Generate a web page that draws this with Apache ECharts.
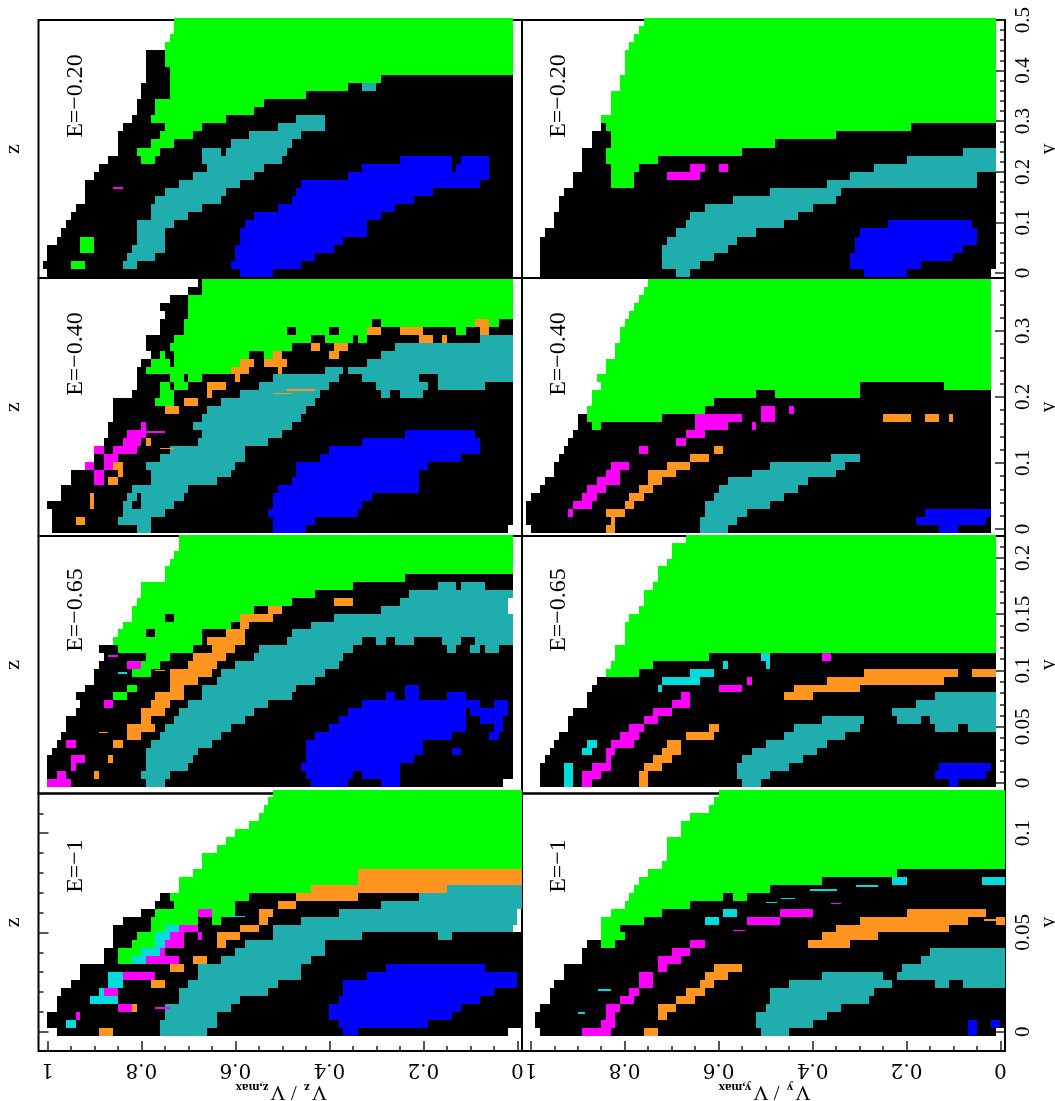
<!DOCTYPE html>
<html><head><meta charset="utf-8">
<script src="https://cdn.jsdelivr.net/npm/echarts@6/dist/echarts.min.js"></script>
<style>html,body{margin:0;padding:0;background:#fff}#c{width:1055px;height:1101px}</style>
</head><body><div id="c"></div>
<script>
// Each row string, top row first: v/vmax in percent where the row starts, then colour letter + percent where that colour ends.
const famColors = {k:'#000000',g:'#00ff00',t:'#20adad',b:'#0000ff',o:'#ff951e',m:'#ff00ff',c:'#00dcdc'};
const vTicks = [1,0.8,0.6,0.4,0.2,0];
const vMinor = [1,.95,.9,.85,.75,.7,.65,.55,.5,.45,.35,.3,.25,.15,.1,.05];

const vzE020 = ["73g1","73g1","74g1","75g1","79k75g1","79k75g1","79k74g1","79k74g29k1","80k74g36k33t30k1","80k74g45k1","81k77g54k1","81k77g56k1","82k78g62k47t41k1","84k75g67k51t41k1","85k76g69k57t46k1","85k78g73k61t48k1","85k81g76k67t63k62t49k1","87k80g77k67t50k25b14k12b6k1","89k66t54k33b14k13b6k1","90k69t56k36b6k1","92k72t59k46b8k1","92k75t62k47b18k1","92k77t63k48b22k1","94k78t67k51b26k1","95k78t70k56b29k1","96k81t73k58b32k1","97k81t75k59b32k1","98k93g90k81t75k59b37k1","100k93g90k82t75k60b39k1","100k83t77k60b43k1","101k95g92k84t81k61b46k1","100k59b52k1"];
const vyE020 = ["76g1","77g1","78g1","79g1","80g1","80g1","80g1","81g1","81g1","83g1","83g1","83g1","85g1","85k84g19k1","87k83g35k1","87k83g48k1","89k84g55k8t1","89k84g73k20t1","89k83g77k66m63k60m58k27t1","91k83g78k71m64k32t5k1","91k83g78k37t5k1","93k49t34k1","94k57t35k1","94k63t40k1","95k66t43k1","95k67t46k24b6k1","97k69t52k30b5k1","98k71t56k31b5k1","98k72t58k31b8k1","98k72t61k32b10k1","98k72t64k32b17k1","98k69t66k29b20k2"];
const vzE040 = ["68k67g1","70k67g1","74k70g1","76k70g1","75k70g1","76k71g31k29g9o6g4k1","76k71g49k47g40k38g32o29k25o20k13g11k8o6k1","79k73g44k41g35k34g32k21o18k16o15k8t1","79k74g48k44o42k39o36k26t1","78k76g75k73g57k54g52o50k40o38k29t1","80k78g74k73g59o56k54o49k32t1","81k79g61o57k51o50k41t37k36t1","81k74g71k70g67k60o59k52t38k33t21k17t1","81k76g74k73g70k66o62k55t40k30t19k17t7k1","82k76g73k66o65k59t42k29t27k25t20k1","86k77g73k71o68k63t43k1","86k75o72k66t45k1","86k67t46k1","87k80m79k69t48k1","87k83m79k67t50k24b9k1","88k84m80k79o78k68t53k33b8k1","90m88k86m81k74t58k40b8k1","90k88m85k76t58k42b12k1","92m90k88m86o84k79t60k47b19k1","95k90m88k85o84k78t61k47b21k1","95k90m88k87o85k78t64k48b21k1","97k82t70k51b21k1","97k91o90k83t81k80t71k52b31k1","100k91o90k84t82k80t73k52b33k1","99k84t75k53b34k1","99k94o92k85t78k52b43k1","99k81t78k52b45k2"];
const vyE040 = ["75g2","76g2","77g2","78g2","79g2","80g2","81g2","81g2","82g2","82g2","84g2","84g2","86g2","85g30k12g2","87g52k48g30k2","87g61k2","88g63k51m48k45m44k2","90k88g72k65m55k51m48k25o19k16o13k11o10k2","90k87g85k65m58k53m52k2","91k67m63k2","92k69m67k2","93k77m75k61o59k2","94k66o62k36t30k2","95k83m79k71o66k49t33k2","95k84m81k75o69k53t35k2","97k86m81k75o72k58t41k2","98k88m84k77o74k60t43k2","100k89m86k79o76k61t46k2","101k91m87k80o78k63t49k2","101k92m91k84o80k63t54k16b2","101k83o82k64t56k18b3k2","100k84o82k64t58k13b9k2"];
const vzE065 = ["72g1","72g1","73g1","74g1","75g1","75g24k1","80g35k17t13k12t7k1","80g43k23t1","81g48k39o35k25t2","82g56k53o50k29t2","82g75k73g59o52k39t1","84g61k59o57k44t1","85g79k77g67k62o58k48t1","86g67k66o58k49t33k30t28k26t22k16t12k9t1","89k85g69k65o60k55t35k15t13k10t8k7t4k1","88k79g74k69o62k56t37k1","89k83m80g76k70o64k60t38k1","90k82g78k74o65k63t41k1","90k74o68k64t43k1","92k83g81k74o71k67t47k24b21k1","94k86g83k77o71k67t48k28b26k24b21k15b11k1","93k88m86k78o74k70t53k33b10k10b8k5b2k1","94k80o75k72t56k36b11k10b2k1","96k80o78k73t58k38b11k8b3k1","96k83o77k75t61k40b11k5b3k1","97k83o80k76t63k43b14k6b4k1","98k96m94k86o84k78t65k45b20k1","99k79t68k45b20k14b12k1","100k95m92k87o86k79t69k45b22k1","100k95m94k79t70k46b25k1","100k98m96k90o89k80t74k45b35k33b25k1","100m95k79t75k44b36k29b25k3"];
const vyE065 = ["67g1","70g1","70g1","71g1","73g1","73g1","74g1","76g1","76g1","77g1","79g1","80g1","80g1","80g1","82g1","82g62k51c49k38m36k1","83g74k59c58k50c49k1","84g77k66c61k29o9k6o1","86k72c64k54m53k37o12k1","87k73c72k60m55k44o30k1","88k68m66k46o40k14t1","88k70m66k18t1","91k74m70k23t1","92k76m73k38t29k22t17k15t1","92k79m76k62o60k44t30k14t9k7t1","94k81m77k67o61k46t33k1","95k88c86k83m78k71o68k50t37k1","96k89c87k84m82k72o68k53t39k1","97k84m83k74o70k55t42k1","98k93c91k87m83k76o72k56t45k13b2k1","98k93c91k89m85k77o75k56t49k14b3k1","98k93c91k89m87k77o75k55t51k11b9k1"];
const vzE100 = ["52g-1","53g-1","54g-1","55g-1","57g-1","60g-1","62g-1","64g-1","67g-1","67g-1","69g34o-1","72g34o-1","72g44o15t-1","76k74g57k47o34k21t-1","77k73g60k51o47k29t-1","80k77g68m65g60k55o52k38t0","84k78g68k65g63k55o53k46t0","86k78g75c72m68k59o55k52t1","86k81g77c74m71k68m67k64o59k52t33k17t14k-1","86k82g77c75m71k64o62k58t41k-1","88k85g80c76m75k60t41k-1","88k85g82c79m72k69o66k63t44k-1","93k74o71k68t46k28b7k-1","93k87c84m77k68t46k32b0k-1","95k87c84k78o75k70t51k37b0k-1","97k89c88m85k72t53k37b5k-1","98k91c85k72t59k38b8k-1","98k85m82o81k75t61k40b12k-1","100k94m93k75t64k40b14k-1","100k96c94k76t64k38b19k-1","98k89o86k76t66k37b34k2"];
const vyE100 = ["60g-1","61g-1","62g-1","66g-1","68g-1","68g-1","71g-1","71g-1","71g-1","72g-1","75g22k-1","77g38k23c20k4c-1","78g49k-1","79g59k57g54k-1","80g66k-1","83g72k59c56k47m40k20o3k-1","85g76k63c60k54m47k30o7k1o-1","85g81k35o11k-1","85g80k38o26k-1","88k85g82k66m63k41o32k-1","89k70m66k15t-1","89k73m68k17t-1","93k73m71k61o55k21t-1","93k77m74k63o58k38t25k22t-1","95k77m74k64o61k45t23k14t11k8t-1","96k79m77k67o63k49t27k-1","96k81m78k69o65k49t28k-1","98k84m81k73o69k50t34k-1","99k84m82k73o71k52t37k-1","99k85m82k52t40k7b5k2b0k-1","98k89m83k76o73k51t45k7b5k1"];

// Thin streaks: [v start %, v end %, y, colour letter]
const thinVyE100 = [[30.7,26,.0734,'c'],[40.5,34.7,.0713,'c'],[46.7,43.8,.0672,'c'],[50,47.5,.0652,'c'],[85.6,83,.021,'c'],[90,88.5,.0094,'c'],[56.9,54.4,.051,'m'],[3.5,0.6,.0564,'o'],[36,34,.0645,'m']];
const thinVzE020 = [[86,84,.168,'m']];
const thinVzE040 = [[81.5,75,.147,'m'],[76,73,.122,'o'],[52,48,.205,'o'],[49,43,.21,'o']];
const thinVzE065 = [[89,87,.045,'o'],[87,85,.113,'m'],[85,83,.098,'c'],[77,75,.1,'o']];
const thinVzE100 = [[62,58,.058,'c'],[77,74,.012,'m']];

const yMajor020 = [0,0.1,0.2,0.3,0.4,0.5];
const yMinor020 = [.02,.04,.06,.08,.12,.14,.16,.18,.22,.24,.26,.28,.32,.34,.36,.38,.42,.44,.46,.48];
const yMajor040 = [0,0.1,0.2,0.3];
const yMinor040 = [.02,.04,.06,.08,.12,.14,.16,.18,.22,.24,.26,.28,.32,.34,.36];
const yMajor065 = [0,0.05,0.1,0.15,0.2];
const yMinor065 = [.01,.02,.03,.04,.06,.07,.08,.09,.11,.12,.13,.14,.16,.17,.18,.19,.21];
const yMajor100 = [0,0.05,0.1];
const yMinor100 = [.01,.02,.03,.04,.06,.07,.08,.09,.11,.12];

const rowsE = [
 {label:'E=\u22120.20', step:0.016, min:-0.0099, max:0.5,   top:20,    h:258,   maj:yMajor020, mnr:yMinor020, L:vzE020, R:vyE020, tL:thinVzE020, tR:[], ly:96},
 {label:'E=\u22120.40', step:0.012, min:-0.0106, max:0.38,  top:278,   h:258,   maj:yMajor040, mnr:yMinor040, L:vzE040, R:vyE040, tL:thinVzE040, tR:[], ly:354},
 {label:'E=\u22120.65', step:0.007, min:-0.0093, max:0.2195,top:536,   h:257.5, maj:yMajor065, mnr:yMinor065, L:vzE065, R:vyE065, tL:thinVzE065, tR:[], ly:610},
 {label:'E=\u22121',    step:0.004, min:-0.0097, max:0.12,  top:793.5, h:257.5, maj:yMajor100, mnr:yMinor100, L:vzE100, R:vyE100, tL:thinVzE100, tR:thinVyE100, ly:866}
];
const font = '"Liberation Serif"';
const xFont = '"DejaVu Serif"';
const colsX = [{left:38.5,width:483.5,key:'L',tk:'tL',name:'z',sub:'z',lx:76},{left:522,width:483,key:'R',tk:'tR',name:'y',sub:'y',lx:559}];

function parseRows(rows, step){
  const out=[];
  rows.forEach((s,i)=>{
    const k=rows.length-1-i;
    let cur=parseFloat(s);
    const re=/([a-z])(-?[\d.]+)/g; let m;
    while((m=re.exec(s))){
      const end=parseFloat(m[2]);
      out.push([cur/100,end/100,(k-0.5)*step,(k+0.5)*step,famColors[m[1]]]);
      cur=end;
    }
  });
  return out;
}
function parseThin(list, step){
  return list.map(t=>[t[0]/100,t[1]/100,t[2]-0.1*step,t[2]+0.1*step,famColors[t[3]]]);
}
function renderCell(params,api){
  const a=api.coord([api.value(0),api.value(2)]), b=api.coord([api.value(1),api.value(3)]);
  const x=Math.round(Math.min(a[0],b[0])), x2=Math.round(Math.max(a[0],b[0]));
  const y=Math.round(Math.min(a[1],b[1])), y2=Math.max(y+1,Math.round(Math.max(a[1],b[1])));
  return {type:'rect',shape:{x:x,y:y,width:x2-x,height:y2-y},style:{fill:api.value(4)}};
}
const grid=[],xAxis=[],yAxis=[],series=[],graphic=[];
const tickStyle={color:'#222',width:1.5};
rowsE.forEach((r,ri)=>{
  colsX.forEach((c,ci)=>{
    const g=grid.length;
    grid.push({left:c.left,top:r.top,width:c.width,height:r.h,show:true,borderColor:'#000',borderWidth:2,backgroundColor:'transparent',containLabel:false,outerBoundsMode:'none'});
    const bottom=ri===3;
    const xa=xAxis.length;
    xAxis.push({type:'value',gridIndex:g,min:-0.0097,max:1.0187,inverse:true,position:'bottom',splitLine:{show:false},axisLine:{show:false,onZero:false},
      axisTick:{show:bottom,inside:true,length:10,lineStyle:tickStyle,customValues:vTicks},
      axisLabel:{show:bottom,rotate:180,margin:8,color:'#000',fontFamily:xFont,fontSize:20,customValues:vTicks,formatter:v=>String(v),hideOverlap:false,showMinLabel:true,showMaxLabel:true},
      name:bottom?`{v|V}{s|${c.sub}}{v| / }{v|V}{s|${c.sub},max}`:'',nameLocation:'middle',nameRotate:180,nameGap:30,nameMoveOverlap:false,
      nameTextStyle:{rich:{v:{fontFamily:font,fontSize:21,lineHeight:22,color:'#000'},s:{fontFamily:font,fontSize:13,fontWeight:'bold',color:'#000',verticalAlign:'bottom',lineHeight:22,padding:[0,2,0,2]}}}});
    xAxis.push({type:'value',gridIndex:g,min:-0.0097,max:1.0187,inverse:true,position:'bottom',show:bottom,splitLine:{show:false},axisLine:{show:false,onZero:false},axisLabel:{show:false},
      axisTick:{show:bottom,inside:true,length:5,lineStyle:tickStyle,customValues:vMinor}});
    const ya=yAxis.length;
    const right=ci===1, showT=right||bottom;
    yAxis.push({type:'value',gridIndex:g,min:r.min,max:r.max,position:right?'right':'left',splitLine:{show:false},axisLine:{show:false,onZero:false},
      axisTick:{show:showT,inside:true,length:10,lineStyle:tickStyle,customValues:r.maj},
      axisLabel:{show:right,rotate:90,margin:8,color:'#000',fontFamily:font,fontSize:21,customValues:r.maj,formatter:v=>String(v),hideOverlap:false,showMinLabel:true,showMaxLabel:true},
      name:c.name,nameLocation:'middle',nameRotate:90,nameGap:right?32:14,nameMoveOverlap:false,nameTextStyle:{fontFamily:font,fontSize:22,color:'#000'}});
    yAxis.push({type:'value',gridIndex:g,min:r.min,max:r.max,position:right?'right':'left',show:showT,splitLine:{show:false},axisLine:{show:false,onZero:false},axisLabel:{show:false},
      axisTick:{show:showT,inside:true,length:5,lineStyle:tickStyle,customValues:r.mnr}});
    series.push({type:'custom',xAxisIndex:xa,yAxisIndex:ya,coordinateSystem:'cartesian2d',renderItem:renderCell,
      data:parseRows(r[c.key],r.step).concat(parseThin(r[c.tk],r.step)),
      encode:{x:[0,1],y:[2,3]},silent:true,animation:false,clip:false,z:1});
    graphic.push({type:'text',x:c.lx,y:r.ly,rotation:Math.PI/2,z:100,style:{text:r.label,font:'24px '+font,fill:'#000',align:'center',verticalAlign:'middle'}});
  });
});
const chart=echarts.init(document.getElementById('c'),null,{renderer:'canvas'});
chart.setOption({animation:false,backgroundColor:'#fff',tooltip:{show:false},grid,xAxis,yAxis,series,graphic});
</script></body></html>
